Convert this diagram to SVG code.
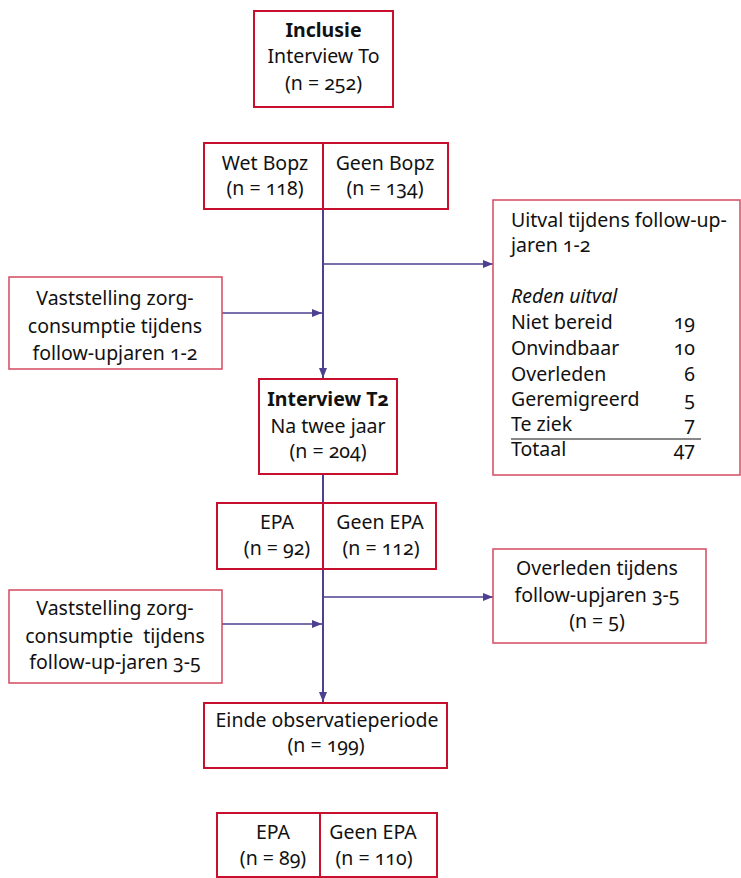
<svg xmlns="http://www.w3.org/2000/svg" width="741" height="878" viewBox="0 0 741 878">
<style>
text{font-family:"Noto Sans","Open Sans","Liberation Sans",sans-serif;font-size:19.5px;fill:#111;font-variant-numeric:oldstyle-nums;}
.c{text-anchor:middle}
.e{text-anchor:end}
.b{font-weight:bold}
.i{font-style:italic}
.box{fill:#fff;stroke:#c8102e;stroke-width:2}
.sbox{fill:#fff;stroke:#d44a5e;stroke-width:1.5}
.ln{stroke:#4e3f91;stroke-width:2;fill:none}
.ln1{stroke:#4e3f91;stroke-width:1.3;fill:none}
</style>
<defs>
<marker id="ah" viewBox="0 0 10 10" refX="10" refY="5" markerWidth="10" markerHeight="10" markerUnits="userSpaceOnUse" orient="auto">
<path d="M0,1 L10,5 L0,9 Z" fill="#4e3f91"/>
</marker>
</defs>
<g id="connectors">
<line class="ln" x1="323" y1="209" x2="323" y2="378" marker-end="url(#ah)"/>
<line class="ln1" x1="323" y1="264" x2="493" y2="264" marker-end="url(#ah)"/>
<line class="ln1" x1="222" y1="313" x2="322" y2="313" marker-end="url(#ah)"/>
<line class="ln" x1="323" y1="474" x2="323" y2="702" marker-end="url(#ah)"/>
<line class="ln1" x1="323" y1="597" x2="493" y2="597" marker-end="url(#ah)"/>
<line class="ln1" x1="222" y1="624" x2="322" y2="624" marker-end="url(#ah)"/>
</g>
<g id="inclusie">
<rect class="box" x="254" y="11" width="139" height="96"/>
<text class="c b" x="323.5" y="37">Inclusie</text>
<text class="c" x="323.5" y="63">Interview To</text>
<text class="c" x="323.5" y="90">(n = 252)</text>
</g>
<g id="wetbopz">
<rect class="box" x="204" y="143" width="119" height="66"/>
<text class="c" x="265" y="170">Wet Bopz</text>
<text class="c" x="265" y="195">(n = 118)</text>
</g>
<g id="geenbopz">
<rect class="box" x="323" y="143" width="125" height="66"/>
<text class="c" x="385" y="170">Geen Bopz</text>
<text class="c" x="385" y="195">(n = 134)</text>
</g>
<g id="uitval">
<rect class="sbox" x="493" y="200" width="247" height="275"/>
<text x="511" y="227">Uitval tijdens follow-up-</text>
<text x="511" y="252">jaren 1-2</text>
<text class="i" x="511" y="303">Reden uitval</text>
<text x="511" y="329">Niet bereid</text>
<text x="511" y="355">Onvindbaar</text>
<text x="511" y="381">Overleden</text>
<text x="511" y="406">Geremigreerd</text>
<text x="511" y="431">Te ziek</text>
<text x="511" y="456">Totaal</text>
<text class="e" x="695" y="329">19</text>
<text class="e" x="695" y="355">10</text>
<text class="e" x="695" y="381">6</text>
<text class="e" x="695" y="406">5</text>
<text class="e" x="695" y="431">7</text>
<text class="e" x="695" y="456">47</text>
<line x1="511" y1="439" x2="701" y2="439" stroke="#111" stroke-width="1.2"/>
</g>
<g id="vaststelling1">
<rect class="sbox" x="9" y="277" width="213" height="92"/>
<text class="c" x="115" y="305">Vaststelling zorg-</text>
<text class="c" x="115" y="333">consumptie tijdens</text>
<text class="c" x="115" y="360">follow-upjaren 1-2</text>
</g>
<g id="interviewt2">
<rect class="box" x="259" y="379" width="138" height="95"/>
<text class="c b" x="328" y="406">Interview T2</text>
<text class="c" x="328" y="433">Na twee jaar</text>
<text class="c" x="328" y="458">(n = 204)</text>
</g>
<g id="epa1">
<rect class="box" x="217" y="503" width="106" height="66"/>
<text class="c" x="277" y="529">EPA</text>
<text class="c" x="277" y="555">(n = 92)</text>
</g>
<g id="geenepa1">
<rect class="box" x="323" y="503" width="113" height="66"/>
<text class="c" x="380" y="529">Geen EPA</text>
<text class="c" x="381" y="555">(n = 112)</text>
</g>
<g id="overleden">
<rect class="sbox" x="493" y="549" width="213" height="94"/>
<text class="c" x="597" y="575">Overleden tijdens</text>
<text class="c" x="597" y="602">follow-upjaren 3-5</text>
<text class="c" x="597" y="628">(n = 5)</text>
</g>
<g id="vaststelling2">
<rect class="sbox" x="9" y="590" width="213" height="93"/>
<text class="c" x="115" y="615">Vaststelling zorg-</text>
<text class="c" x="115" y="643" xml:space="preserve">consumptie  tijdens</text>
<text class="c" x="115" y="669">follow-up-jaren 3-5</text>
</g>
<g id="einde">
<rect class="box" x="204" y="703" width="243" height="65"/>
<text class="c" x="327" y="727">Einde observatieperiode</text>
<text class="c" x="326" y="752">(n = 199)</text>
</g>
<g id="epa2">
<rect class="box" x="217" y="813" width="103" height="64"/>
<text class="c" x="273" y="839">EPA</text>
<text class="c" x="273" y="865">(n = 89)</text>
</g>
<g id="geenepa2">
<rect class="box" x="320" y="813" width="117" height="64"/>
<text class="c" x="373" y="839">Geen EPA</text>
<text class="c" x="374" y="865">(n = 110)</text>
</g>
</svg>
